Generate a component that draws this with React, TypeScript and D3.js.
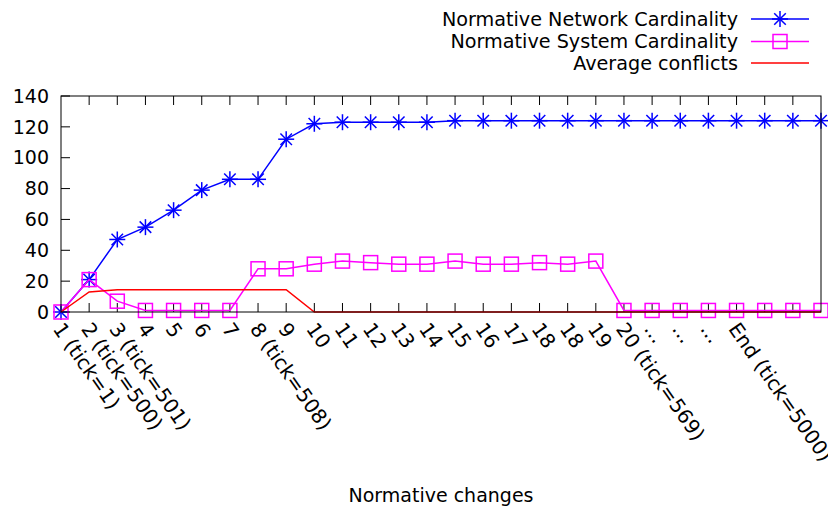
import React from "react";
import * as d3 from "d3";

// Normative change steps along the x axis (last three points carry no label)
const changeLabels: string[] = [
  "1 (tick=1)", "2 (tick=500)", "3 (tick=501)", "4", "5", "6", "7", "8 (tick=508)",
  "9", "10", "11", "12", "13", "14", "15", "16", "17", "18", "18", "19",
  "20 (tick=569)", "...", "...", "...", "End (tick=5000)", "", "", "",
];

const networkCardinality: number[] = [
  0, 21, 47, 55, 66, 79, 86, 86, 112, 122, 123, 123, 123, 123,
  124, 124, 124, 124, 124, 124, 124, 124, 124, 124, 124, 124, 124, 124,
];

const systemCardinality: number[] = [
  0, 21, 7, 1, 1, 1, 1, 28, 28, 31, 33, 32, 31, 31,
  33, 31, 31, 32, 31, 33, 1, 1, 1, 1, 1, 1, 1, 1,
];

const averageConflicts: number[] = [
  0, 13, 14.5, 14.5, 14.5, 14.5, 14.5, 14.5, 14.5, 0, 0, 0, 0, 0,
  0, 0, 0, 0, 0, 0, 0, 0, 0, 0, 0, 0, 0, 0,
];

const yTicks: number[] = [0, 20, 40, 60, 80, 100, 120, 140];

const legendNames: string[] = [
  "Normative Network Cardinality",
  "Normative System Cardinality",
  "Average conflicts",
];

const W = 828;
const H = 508;
const plot = { left: 61, right: 821, top: 96, bottom: 312 };
const FONT = "'DejaVu Sans', sans-serif";
const FS = 19;
const BLUE = "#0000ff";
const MAGENTA = "#ff00ff";
const RED = "#ff0000";

const x = d3.scaleLinear().domain([0, changeLabels.length - 1]).range([plot.left, plot.right]);
const y = d3.scaleLinear().domain([0, 140]).range([plot.bottom, plot.top]);

const lineGen = d3
  .line<number>()
  .x((_, i) => x(i))
  .y((v) => y(v));

function Asterisk({ cx, cy, color }: { cx: number; cy: number; color: string }) {
  const r = 8;
  const d = r * 0.72;
  return (
    <g stroke={color} strokeWidth={1.5}>
      <line x1={cx - r} y1={cy} x2={cx + r} y2={cy} />
      <line x1={cx} y1={cy - r} x2={cx} y2={cy + r} />
      <line x1={cx - d} y1={cy - d} x2={cx + d} y2={cy + d} />
      <line x1={cx - d} y1={cy + d} x2={cx + d} y2={cy - d} />
    </g>
  );
}

function Square({ cx, cy, color }: { cx: number; cy: number; color: string }) {
  const r = 7;
  return (
    <rect x={cx - r} y={cy - r} width={2 * r} height={2 * r} fill="none" stroke={color} strokeWidth={1.5} />
  );
}

export default function App() {
  const tickLen = 9;
  const legendRows = [19, 41.5, 63];
  const legendTextX = 738;
  const sampleX1 = 751;
  const sampleX2 = 809;
  const sampleMid = (sampleX1 + sampleX2) / 2;

  return (
    <div style={{ position: "fixed", left: 0, top: 0, width: W, height: H, background: "#fff" }}>
      <svg width={W} height={H} style={{ display: "block" }} fontFamily={FONT} fontSize={FS}>
        <rect x={0} y={0} width={W} height={H} fill="#fff" />

        {/* y axis ticks and labels */}
        {yTicks.map((t) => (
          <g key={"y" + t}>
            <line x1={plot.left} x2={plot.left + tickLen} y1={y(t)} y2={y(t)} stroke="#000" strokeWidth={1} />
            <text x={plot.left - 12} y={y(t)} dy="0.35em" textAnchor="end" fill="#000">
              {t}
            </text>
          </g>
        ))}

        {/* x axis ticks (bottom and mirrored top) and rotated labels */}
        {changeLabels.map((label, i) => (
          <g key={"x" + i}>
            {i > 0 && i < changeLabels.length - 1 && (
              <>
                <line x1={x(i)} x2={x(i)} y1={plot.bottom} y2={plot.bottom - tickLen} stroke="#000" strokeWidth={1} />
                <line x1={x(i)} x2={x(i)} y1={plot.top} y2={plot.top + tickLen} stroke="#000" strokeWidth={1} />
              </>
            )}
            {label && (
              <text
                transform={`translate(${x(i) - 3},325) rotate(55)`}
                dy="0.35em"
                textAnchor="start"
                fontSize={20}
                fill="#000"
              >
                {label}
              </text>
            )}
          </g>
        ))}

        {/* series */}
        <path d={lineGen(networkCardinality) ?? ""} fill="none" stroke={BLUE} strokeWidth={1.5} />
        {networkCardinality.map((v, i) => (
          <Asterisk key={"n" + i} cx={x(i)} cy={y(v)} color={BLUE} />
        ))}

        <path d={lineGen(systemCardinality) ?? ""} fill="none" stroke={MAGENTA} strokeWidth={1.5} />
        {systemCardinality.map((v, i) => (
          <Square key={"s" + i} cx={x(i)} cy={y(v)} color={MAGENTA} />
        ))}

        <path d={lineGen(averageConflicts) ?? ""} fill="none" stroke={RED} strokeWidth={1.5} />

        {/* plot border */}
        <rect
          x={plot.left}
          y={plot.top}
          width={plot.right - plot.left}
          height={plot.bottom - plot.top}
          fill="none"
          stroke="#000"
          strokeWidth={1}
        />

        {/* legend */}
        {legendNames.map((name, k) => (
          <g key={"l" + k}>
            <text x={legendTextX} y={legendRows[k]} dy="0.35em" textAnchor="end" fontSize={19.2} fill="#000">
              {name}
            </text>
            <line
              x1={sampleX1}
              x2={sampleX2}
              y1={legendRows[k]}
              y2={legendRows[k]}
              stroke={[BLUE, MAGENTA, RED][k]}
              strokeWidth={1.5}
            />
            {k === 0 && <Asterisk cx={sampleMid} cy={legendRows[k]} color={BLUE} />}
            {k === 1 && <Square cx={sampleMid} cy={legendRows[k]} color={MAGENTA} />}
          </g>
        ))}

        {/* x axis title */}
        <text x={(plot.left + plot.right) / 2} y={502} textAnchor="middle" fill="#000">
          Normative changes
        </text>
      </svg>
    </div>
  );
}
